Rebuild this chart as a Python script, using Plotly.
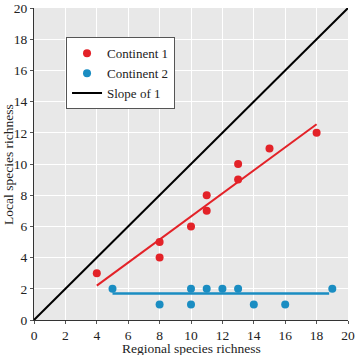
import plotly.graph_objects as go

c1_x = [4, 8, 8, 10, 11, 11, 13, 13, 15, 18]
c1_y = [3, 5, 4, 6, 8, 7, 10, 9, 11, 12]
c2_x = [5, 8, 10, 10, 11, 12, 13, 14, 16, 19]
c2_y = [2, 1, 2, 1, 2, 2, 2, 1, 1, 2]
fit1_x = [4, 18]
fit1_y = [2.2, 12.55]
fit2_x = [5, 18.8]
fit2_y = [1.7, 1.7]
slope_x = [0, 20]
slope_y = [0, 20]

red = "#e32228"
blue = "#1a8dc2"
font = "Liberation Serif"

fig = go.Figure()
fig.add_trace(go.Scatter(x=slope_x, y=slope_y, mode="lines", line=dict(color="black", width=2),
                         name="Slope of 1", showlegend=False))
fig.add_trace(go.Scatter(x=fit1_x, y=fit1_y, mode="lines", line=dict(color=red, width=2), showlegend=False))
fig.add_trace(go.Scatter(x=fit2_x, y=fit2_y, mode="lines", line=dict(color=blue, width=2.5), showlegend=False))
fig.add_trace(go.Scatter(x=c1_x, y=c1_y, mode="markers", marker=dict(color=red, size=8), name="Continent 1"))
fig.add_trace(go.Scatter(x=c2_x, y=c2_y, mode="markers", marker=dict(color=blue, size=8), name="Continent 2"))
fig.add_trace(go.Scatter(x=[None], y=[None], mode="lines", line=dict(color="black", width=2), name="Slope of 1"))

axis_common = dict(range=[0, 20], dtick=2, showgrid=True, gridcolor="white", gridwidth=1,
                   showline=True, linecolor="#333333", linewidth=1, ticks="outside", ticklen=3,
                   tickcolor="#555555", zeroline=False, automargin=False, ticklabeloverflow="allow",
                   tickfont=dict(family=font, size=13.5, color="#222222"))

fig.update_layout(
    width=355, height=355,
    margin=dict(l=34, r=7, t=8, b=35),
    plot_bgcolor="#e8e8e8", paper_bgcolor="white",
    font=dict(family=font, size=13.5, color="#222222"),
    xaxis=dict(axis_common),
    yaxis=dict(axis_common),
    legend=dict(x=0.102, y=0.906, xanchor="left", yanchor="top", bgcolor="white", bordercolor="#555555",
                borderwidth=1, font=dict(family=font, size=13), tracegroupgap=0, itemwidth=30),
    annotations=[
        dict(text="Regional species richness", xref="paper", yref="paper", x=0.5, y=-0.091,
             xanchor="center", yanchor="middle", showarrow=False, borderpad=0,
             font=dict(family=font, size=13.5)),
        dict(text="Local species richness", xref="paper", yref="paper", x=-0.083, y=0.5, textangle=-90,
             xanchor="center", yanchor="middle", showarrow=False, borderpad=0,
             font=dict(family=font, size=13.5)),
    ],
)
fig.write_html("out.html", config={"displayModeBar": False},
               post_script="document.body.style.margin='0';document.body.style.overflow='hidden';")
